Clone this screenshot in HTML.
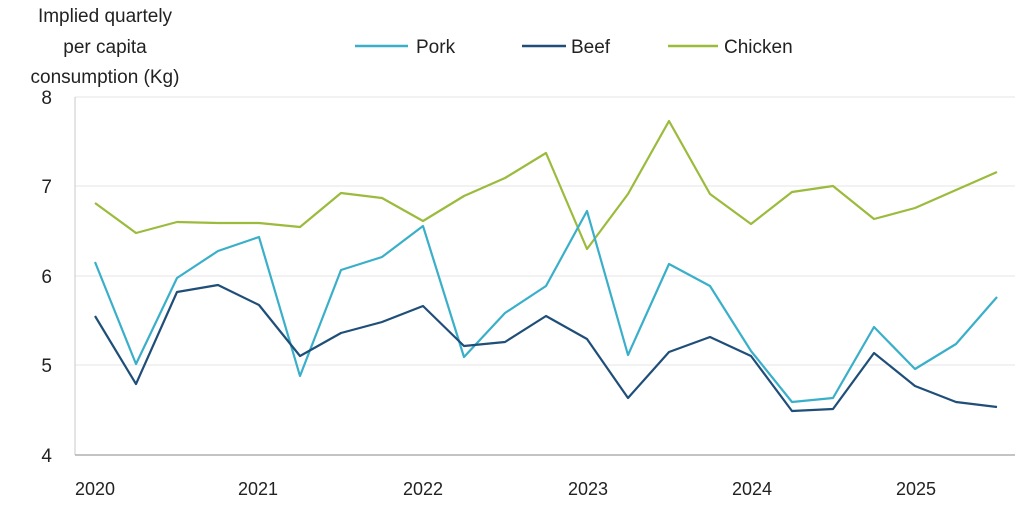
<!DOCTYPE html><html><head><style>body{margin:0;background:#fff}svg{display:block}text{font-family:"Liberation Sans",sans-serif;fill:#222}</style></head><body>
<svg width="1024" height="507" xmlns="http://www.w3.org/2000/svg">
<g stroke="#e4e4e4" stroke-width="1"><line x1="75" y1="97" x2="1015" y2="97"/><line x1="75" y1="186" x2="1015" y2="186"/><line x1="75" y1="276" x2="1015" y2="276"/><line x1="75" y1="365" x2="1015" y2="365"/></g>
<line x1="75" y1="97" x2="75" y2="455" stroke="#c8c8c8"/>
<line x1="75" y1="455" x2="1015" y2="455" stroke="#b0b0b0" stroke-width="1.5"/>
<g font-size="19" text-anchor="middle"><text x="105" y="22">Implied quartely</text><text x="105" y="53">per capita</text><text x="105" y="83">consumption (Kg)</text></g>
<g font-size="19" text-anchor="end"><text x="52" y="104">8</text><text x="52" y="193">7</text><text x="52" y="283">6</text><text x="52" y="372">5</text><text x="52" y="462">4</text></g>
<g font-size="18" text-anchor="middle"><text x="95" y="495">2020</text><text x="258" y="495">2021</text><text x="423" y="495">2022</text><text x="588" y="495">2023</text><text x="752" y="495">2024</text><text x="916" y="495">2025</text></g>
<g font-size="19"><line x1="355" y1="46" x2="408" y2="46" stroke="#3aafc9" stroke-width="2.5"/><text x="416" y="53">Pork</text>
<line x1="522" y1="46" x2="566" y2="46" stroke="#1f4e79" stroke-width="2.5"/><text x="571" y="53">Beef</text>
<line x1="668" y1="46" x2="718" y2="46" stroke="#9bbb3c" stroke-width="2.5"/><text x="724" y="53">Chicken</text></g>
<g fill="none" stroke-width="2.2" stroke-linejoin="round">
<polyline stroke="#9bbb3c" points="95,203 136,233 177,222 218,223 259,223 300,227 341,193 382,198 423,221 464,196 505,178 546,153 587,249 628,194 669,121 710,194 751,224 792,192 833,186 874,219 915,208 956,190 997,172"/>
<polyline stroke="#3aafc9" points="95,262 136,364 177,278 218,251 259,237 300,376 341,270 382,257 423,226 464,357 505,313 546,286 587,211 628,355 669,264 710,286 751,351 792,402 833,398 874,327 915,369 956,344 997,297"/>
<polyline stroke="#1f4e79" points="95,316 136,384 177,292 218,285 259,305 300,356 341,333 382,322 423,306 464,346 505,342 546,316 587,339 628,398 669,352 710,337 751,356 792,411 833,409 874,353 915,386 956,402 997,407"/>
</g>
</svg></body></html>
